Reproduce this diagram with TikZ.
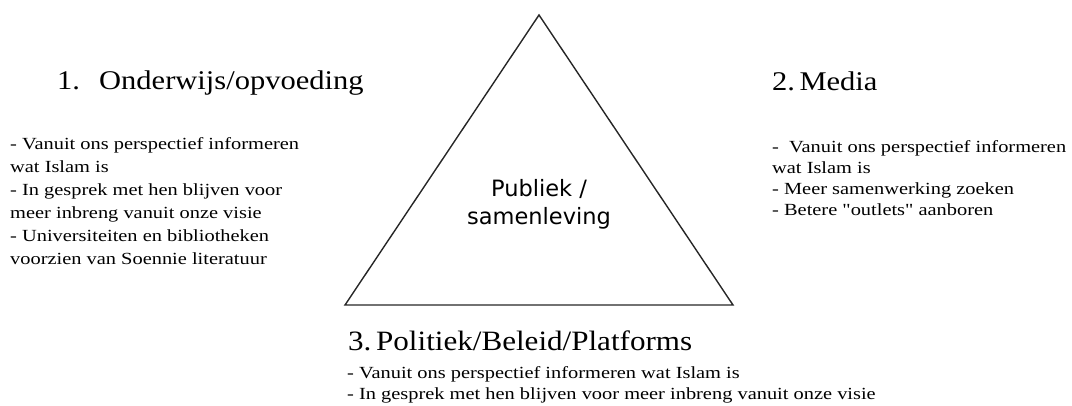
\documentclass[tikz,border=0pt]{standalone}
\usepackage{fontspec}
\setmainfont{Liberation Serif}
\newfontfamily\headfont[FakeStretch=1.13]{Liberation Serif}
\newfontfamily\bighfont[FakeStretch=1.11]{Liberation Serif}
\newfontfamily\bodyfont[FakeStretch=1.2]{Liberation Serif}
\newfontfamily\centerfont{DejaVu Sans}
\begin{document}
\begin{tikzpicture}[x=1pt,y=-1pt,
  txt/.style={inner sep=0pt,anchor=base west,text=black},
  head/.style={txt,font=\headfont\fontsize{27}{32}\selectfont},
  body/.style={txt,font=\bodyfont\fontsize{17}{20}\selectfont},
  bighead/.style={txt,font=\bighfont\fontsize{28}{34}\selectfont},
  ctr/.style={inner sep=0pt,anchor=base,font=\centerfont\fontsize{22.5}{26}\selectfont}]
\useasboundingbox (0,0) rectangle (1072,405);
% triangle
\coordinate (apex) at (539,15);
\coordinate (bl) at (345,305);
\coordinate (br) at (733,305);
\draw[line width=1.4pt,line join=miter,black!85] (apex) -- (bl) -- (br) -- cycle;
\node[ctr] (c1) at (539,196) {Publiek /};
\node[ctr] (c2) at (539,224) {samenleving};
% block 1
\node[head] (h1n) at (57,89) {1.};
\node[head] (h1) at (99,89) {Onderwijs/opvoeding};
\node[body] (l1) at (10,149) {- Vanuit ons perspectief informeren};
\node[body] (l2) at (10,172) {wat Islam is};
\node[body] (l3) at (10,195) {- In gesprek met hen blijven voor};
\node[body] (l4) at (10,218) {meer inbreng vanuit onze visie};
\node[body] (l5) at (10,241) {- Universiteiten en bibliotheken};
\node[body] (l6) at (10,264) {voorzien van Soennie literatuur};
% block 2
\node[head] (h2) at (772,90) {2.\,Media};
\node[body] (m1) at (772,152) {-\ \ Vanuit ons perspectief informeren};
\node[body] (m2) at (772,173) {wat Islam is};
\node[body] (m3) at (772,194) {- Meer samenwerking zoeken};
\node[body] (m4) at (772,215) {- Betere "outlets" aanboren};
% block 3
\node[bighead] (h3) at (348,350) {3.\,Politiek/Beleid/Platforms};
\node[body] (p1) at (347,378) {- Vanuit ons perspectief informeren wat Islam is};
\node[body] (p2) at (347,399) {- In gesprek met hen blijven voor meer inbreng vanuit onze visie};
\end{tikzpicture}
\end{document}
